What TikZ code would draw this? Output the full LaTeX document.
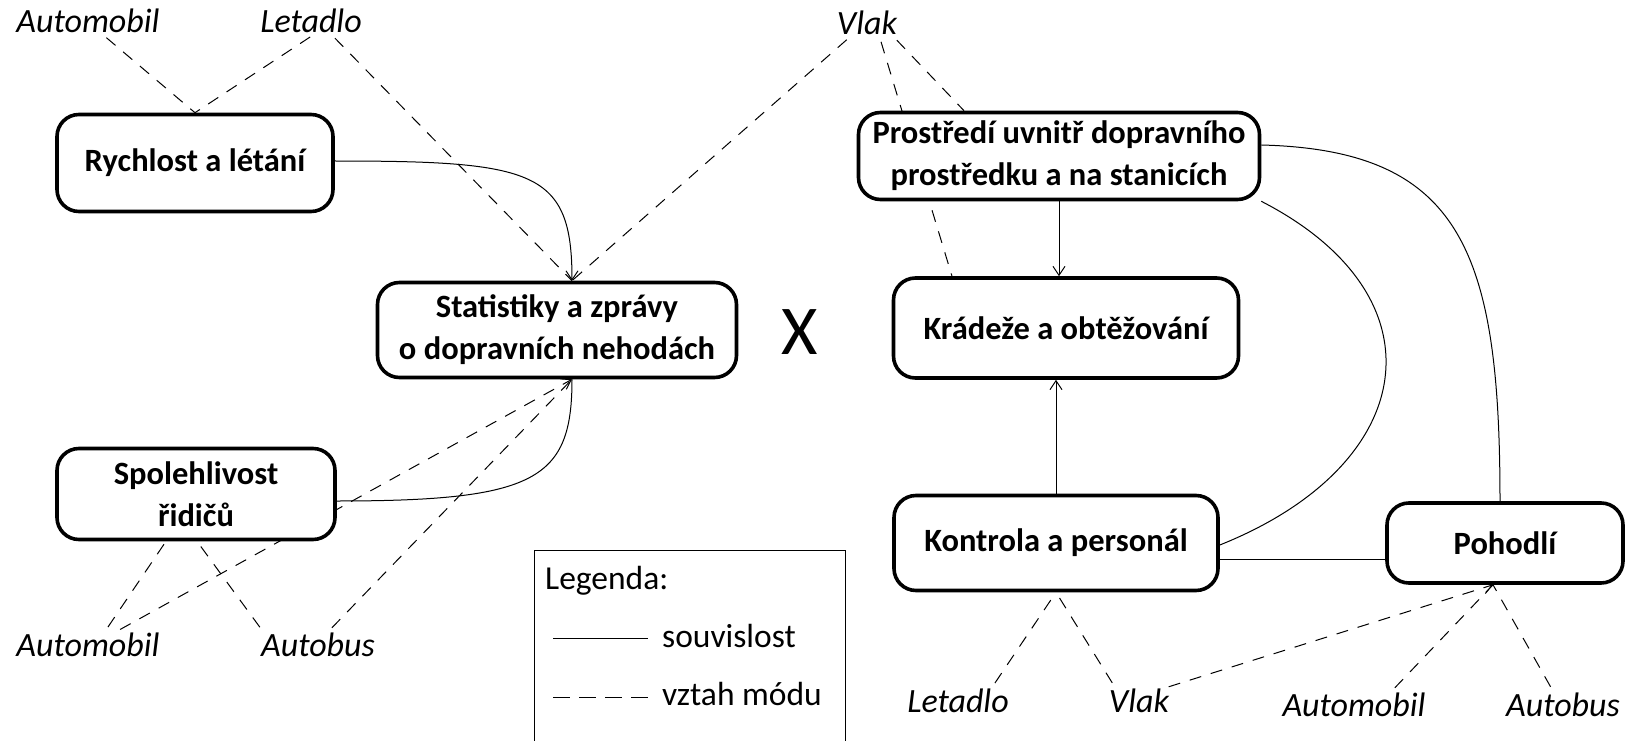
\documentclass[tikz,border=0pt]{standalone}
\usepackage{fontspec}
\setmainfont{Carlito}
\usetikzlibrary{arrows.meta,backgrounds}
\begin{document}
\begin{tikzpicture}[x=1pt,y=-1pt,
  box/.style={draw,line width=3.6pt,rounded corners=22pt,fill=white,align=center,
    font=\fontsize{32.5}{42}\selectfont\bfseries,inner sep=0pt},
  lab/.style={font=\fontsize{34}{38}\selectfont\itshape,inner sep=0pt},
  leg/.style={font=\fontsize{33.5}{36}\selectfont,inner sep=1pt,anchor=west},
  rel/.style={line width=1pt},
  mode/.style={line width=1pt,dash pattern=on 12pt off 10pt,shorten <=7pt},
  tip/.style={-{Straight Barb[length=9pt,width=12pt]}}]
\useasboundingbox (0,0) rectangle (1626,741);
% boxes
\node[box,minimum width=276pt,minimum height=97pt] (R) at (195,163) {Rychlost a létání};
\node[box,minimum width=359pt,minimum height=95pt] (S) at (557,330) {Statistiky a zprávy\\o dopravních nehodách};
\node[box,minimum width=278pt,minimum height=91pt] (Sp) at (196,494) {Spolehlivost\\řidičů};
\node[box,minimum width=401pt,minimum height=87pt] (P) at (1059,156) {Prostředí uvnitř dopravního\\prostředku a na stanicích};
\node[box,minimum width=345pt,minimum height=100pt] (K) at (1066,328) {Krádeže a obtěžování};
\node[box,minimum width=324pt,minimum height=95pt] (Ko) at (1056,543) {Kontrola a personál};
\node[box,minimum width=236pt,minimum height=80pt] (Po) at (1505,543) {Pohodlí};
\node[font=\fontsize{70}{70}\selectfont] (X) at (800,332) {X};
% mode labels
\node[lab] (a1) at (88,21) {Automobil};
\node[lab] (l1) at (311,21) {Letadlo};
\node[lab] (v1) at (867,23) {Vlak};
\node[lab] (a2) at (88,645) {Automobil};
\node[lab] (b2) at (318,645) {Autobus};
\node[lab] (l3) at (958,701) {Letadlo};
\node[lab] (v3) at (1139,701) {Vlak};
\node[lab] (a3) at (1354,705) {Automobil};
\node[lab] (b3) at (1563,705) {Autobus};
% legend
\draw[line width=1pt] (534,745) -- (534,550) -- (845,550) -- (845,745);
\node[leg] (lg) at (544,581) {Legenda:};
\coordinate (s1) at (553,638);
\coordinate (s2) at (648,638);
\coordinate (d1) at (553,697);
\coordinate (d2) at (648,697);
\draw[rel] (s1) -- (s2);
\draw[line width=1pt,dash pattern=on 17pt off 9pt] (d1) -- (d2);
\node[leg] (ls) at (661,636) {souvislost};
\node[leg] (lm) at (661,694) {vztah módu};
\begin{scope}[on background layer]
% solid relations
\draw[rel,tip] ([yshift=2pt]R.east) .. controls +(200,0) and +(0,-110) .. ([xshift=15pt]S.north);
\draw[rel] ([yshift=-7pt]Sp.east) .. controls +(200,0) and +(0,100) .. ([xshift=15pt]S.south);
\draw[rel,tip] (P.south) -- (P.south |- K.north);
\draw[rel,tip] (Ko.north) -- (Ko.north |- K.south);
\draw[rel] ([yshift=11pt]P.east) .. controls +(200,5) and +(0,-250) .. ([xshift=-5pt]Po.north);
\draw[rel] (P.south east) .. controls +(185,95) and +(200,-80) .. ([yshift=-2pt]Ko.east);
\draw[rel] ([yshift=-16pt]Ko.east) -- ([yshift=-16pt]Po.west);
% mode relations (top)
\draw[mode] ([xshift=13pt]a1.south) -- (R.north);
\draw[mode] ([xshift=5pt]l1.south) -- (R.north);
\draw[mode] ([xshift=19pt]l1.south) -- ([xshift=15pt]S.north);
\draw[mode] ([xshift=-15pt]v1.south) -- ([xshift=15pt]S.north);
\draw[mode] ([xshift=12pt]v1.south) -- ([xshift=-114pt]K.north);
\draw[mode] ([xshift=25pt]v1.south) -- ([xshift=-95pt]P.north);
% mode relations (bottom left)
\draw[mode] ([xshift=16pt]a2.north) -- ([xshift=-30pt]Sp.south);
\draw[mode,tip] ([xshift=26pt]a2.north) -- ([xshift=15pt]S.south);
\draw[mode] ([xshift=-54pt]b2.north) -- ([xshift=1pt]Sp.south);
\draw[mode] ([xshift=9pt]b2.north) -- ([xshift=15pt]S.south);
% mode relations (bottom right)
\draw[mode] ([xshift=33pt]l3.north) -- (Ko.south);
\draw[mode] ([xshift=-23pt]v3.north) -- (Ko.south);
\draw[mode,tip] ([xshift=23pt]v3.north) -- ([xshift=-12pt]Po.south);
\draw[mode] ([xshift=36pt]a3.north) -- ([xshift=-12pt]Po.south);
\draw[mode] ([xshift=-9pt]b3.north) -- ([xshift=-12pt]Po.south);
\end{scope}
\end{tikzpicture}
\end{document}
